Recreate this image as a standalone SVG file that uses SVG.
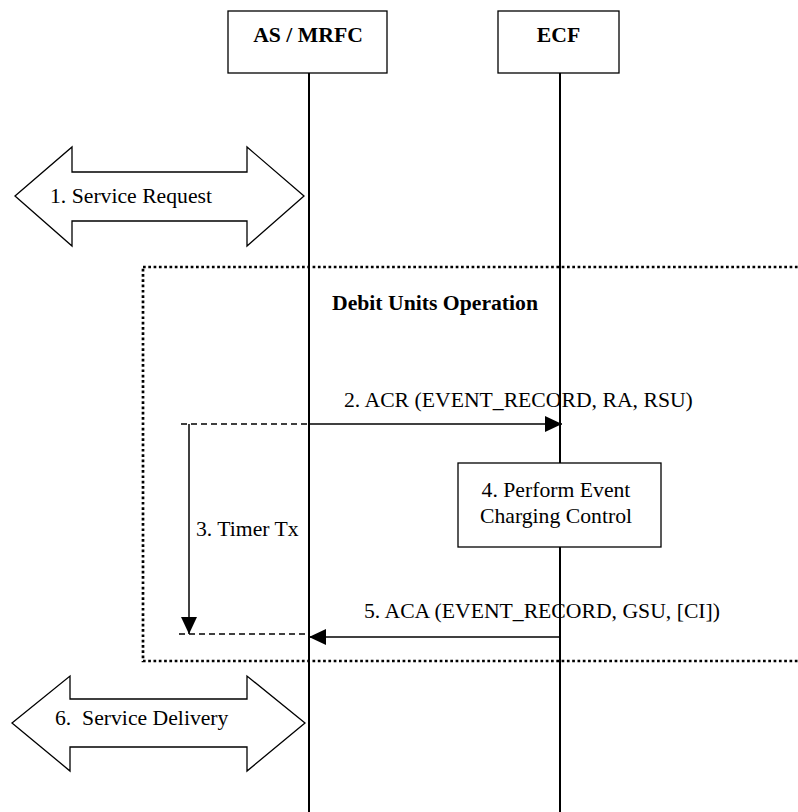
<svg xmlns="http://www.w3.org/2000/svg" width="798" height="812" viewBox="0 0 798 812">
<style>
text{font-family:"Liberation Serif","Times New Roman",serif;font-size:21.7px;fill:#000}
.b{font-weight:bold}
.box{fill:#fff;stroke:#000;stroke-width:1.3}
.life{stroke:#000;stroke-width:2;fill:none}
.dash{stroke:#000;stroke-width:1.5;stroke-dasharray:6 4;fill:none}
.msg{stroke:#000;stroke-width:1.5;fill:none}
.big{fill:#fff;stroke:#000;stroke-width:1.3}
.dot{fill:none;stroke:#000;stroke-width:2.7;stroke-dasharray:2.7 2.6}
</style>
<defs>
<marker id="ah" markerUnits="userSpaceOnUse" markerWidth="17" markerHeight="16" refX="17" refY="8" orient="auto">
<path d="M0,0 L17,8 L0,16 z" fill="#000"/>
</marker>
</defs>
<rect width="798" height="812" fill="#fff"/>
<g id="frame-debit">
<rect class="dot" x="143" y="267" width="700" height="394"/>
<text class="b" x="435" y="310" text-anchor="middle">Debit Units Operation</text>
</g>
<g id="lifelines">
<line class="life" x1="309" y1="73" x2="309" y2="812"/>
<line class="life" x1="560" y1="73" x2="560" y2="812"/>
</g>
<g id="as-mrfc">
<rect class="box" x="228" y="11" width="159" height="62"/>
<text class="b" x="308" y="42" text-anchor="middle">AS / MRFC</text>
</g>
<g id="ecf">
<rect class="box" x="498" y="11" width="121" height="62"/>
<text class="b" x="558.5" y="42" text-anchor="middle">ECF</text>
</g>
<g id="service-request">
<polygon class="big" points="15,196 72,147 72,172 247,172 247,147 304,196 247,246 247,221 72,221 72,246"/>
<text x="50" y="203">1. Service Request</text>
</g>
<g id="perform-ecc">
<rect class="box" x="458" y="463" width="203" height="84"/>
<text x="556" y="497" text-anchor="middle">4. Perform Event</text>
<text x="556" y="523" text-anchor="middle">Charging Control</text>
</g>
<g id="service-delivery">
<polygon class="big" points="12,723 70,676 70,699 247,699 247,676 305,723 247,771 247,747 70,747 70,771"/>
<text x="55" y="725" xml:space="preserve">6.  Service Delivery</text>
</g>
<g id="connectors">
<line class="dash" x1="181" y1="424" x2="309" y2="424"/>
<line class="msg" x1="309" y1="424" x2="562" y2="424" marker-end="url(#ah)"/>
<text x="344" y="407">2. ACR (EVENT_RECORD, RA, RSU)</text>
<line class="msg" x1="189" y1="424" x2="189" y2="634" marker-end="url(#ah)"/>
<text x="196" y="536">3. Timer Tx</text>
<line class="dash" x1="179" y1="634" x2="309" y2="634"/>
<line class="msg" x1="560" y1="637" x2="309" y2="637" marker-end="url(#ah)"/>
<text x="364" y="618">5. ACA (EVENT_RECORD, GSU, [CI])</text>
</g>
</svg>
